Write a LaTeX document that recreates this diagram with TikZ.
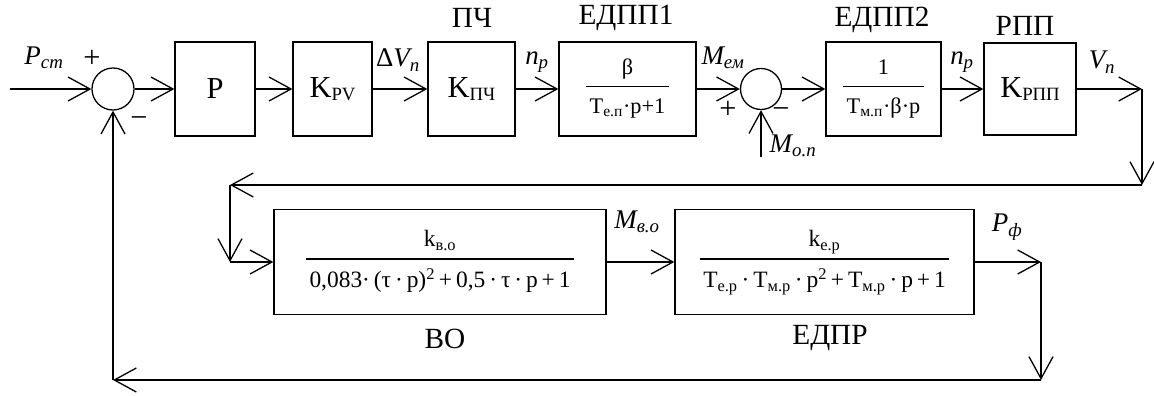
\documentclass[tikz,border=0pt]{standalone}
\usepackage{fontspec}
\setmainfont{Liberation Serif}
\usepackage{tikz}
\usetikzlibrary{arrows.meta, positioning}
\tikzstyle{arrow} = [line width=1.1pt, -{Straight Barb[length=6.6mm, width=7.2mm]}]
\newcommand{\ksub}[1]{\raisebox{-0.12em}{\fontsize{16}{16}\selectfont #1}}
\newcommand{\frc}[2]{\setlength{\arrayrulewidth}{1.1pt}\begin{tabular}{@{\hspace{3pt}}c@{\hspace{3pt}}}#1\\[3pt]\hline\rule{0pt}{1.2em}#2\end{tabular}}

\begin{document}
\begin{tikzpicture}[x=0.03cm, y=-0.03cm,
    block/.style={draw, line width=1.1pt, inner sep=0pt, minimum height=2.82cm, font=\fontsize{26}{30}\selectfont},
    frac/.style={block, font=\fontsize{19}{22}\selectfont},
    bigfrac/.style={block, minimum height=3.15cm, font=\fontsize{20}{23}\selectfont},
    sum/.style={circle, draw, line width=1.1pt, inner sep=0pt, minimum size=1.26cm},
    title/.style={inner sep=0pt, font=\fontsize{25}{29}\selectfont},
    signal/.style={inner sep=0pt, font=\fontsize{23}{27}\selectfont\itshape},
    sign/.style={inner sep=0pt, font=\fontsize{26}{28}\selectfont}]
    \useasboundingbox (0,0) rectangle (1154,396);
    \node[sum] (s1) at (113,89) {};
    \node[block, minimum width=2.4cm] (p) at (215,89) {P};
    \node[block, minimum width=2.37cm] (kpv) at (332.5,89) {K\ksub{PV}};
    \node[block, minimum width=2.61cm] (pch) at (471.5,89) {K\ksub{ПЧ}};
    \node[frac, minimum width=4.11cm] (e1) at (627.5,89) {\frc{β}{T\textsubscript{е.п}·p+1}};
    \node[sum, minimum size=1.23cm] (s2) at (761,89) {};
    \node[frac, minimum width=3.45cm] (e2) at (883.5,89) {\frc{1}{T\textsubscript{м.п}·β·p}};
    \node[block, minimum width=2.76cm, minimum height=2.76cm] (rpp) at (1030,89) {K\ksub{РПП}};
    \node[bigfrac, minimum width=9.96cm] (vo) at (440,262) {\frc{k\textsubscript{в.о}}{0,083·\,(τ\,·\,p)\textsuperscript{2}\,+\,0,5\,·\,τ\,·\,p\,+\,1}};
    \node[bigfrac, minimum width=8.97cm] (edpr) at (824.5,262) {\frc{k\textsubscript{е.р}}{T\textsubscript{е.р}\,·\,T\textsubscript{м.р}\,·\,p\textsuperscript{2}\,+\,T\textsubscript{м.р}\,·\,p\,+\,1}};

    \node[title] (tpch) at (472,18) {ПЧ};
    \node[title] (te1) at (626,18) {ЕДПП1};
    \node[title] (te2) at (882,20) {ЕДПП2};
    \node[title] (trpp) at (1025,26) {РПП};
    \node[title] (tvo) at (445,339) {ВО};
    \node[title] (tedpr) at (830,338) {ЕДПР};

    \node[signal] (pst) at (44,58) {P\textsubscript{ст}};
    \node[signal] (dv) at (398,60) {{\upshape Δ}V\textsubscript{п}};
    \node[signal] (np1) at (537,62) {п\textsubscript{р}};
    \node[signal] (mem) at (723,58) {M\textsubscript{ем}};
    \node[signal] (mop) at (793,146) {M\textsubscript{о.п}};
    \node[signal] (np2) at (962,62) {п\textsubscript{р}};
    \node[signal] (vp) at (1102,62) {V\textsubscript{п}};
    \node[signal] (mvo) at (637,222) {M\textsubscript{в.о}};
    \node[signal] (pf) at (1007,227) {P\textsubscript{ф}};

    \node[sign] (pl1) at (92,59) {+};
    \node[sign] (mi1) at (139,122) {−};
    \node[sign] (pl2) at (728,110) {+};
    \node[sign] (mi2) at (781,113) {−};

    \coordinate (in) at (10,89);
    \coordinate (mo) at (761,157);
    \coordinate (c1) at (1142,89);
    \coordinate (c2) at (1142,185);
    \coordinate (c3) at (230,185);
    \coordinate (c4) at (230,262);
    \coordinate (c5) at (1041,262);
    \coordinate (c6) at (1041,380);
    \coordinate (c7) at (113,380);

    \draw[arrow] (in) -- (s1);
    \draw[arrow] (s1) -- (p);
    \draw[arrow] (p) -- (kpv);
    \draw[arrow] (kpv) -- (pch);
    \draw[arrow] (pch) -- (e1);
    \draw[arrow] (e1) -- (s2);
    \draw[arrow] (mo) -- (s2);
    \draw[arrow] (s2) -- (e2);
    \draw[arrow] (e2) -- (rpp);
    \draw[arrow] (rpp) -- (c1);
    \draw[arrow] (c1) -- (c2);
    \draw[arrow] (c2) -- (c3);
    \draw[arrow] (c3) -- (c4);
    \draw[arrow] (c4) -- (vo);
    \draw[arrow] (vo) -- (edpr);
    \draw[arrow] (edpr) -- (c5);
    \draw[arrow] (c5) -- (c6);
    \draw[arrow] (c6) -- (c7);
    \draw[arrow] (c7) -- (s1);
\end{tikzpicture}
\end{document}
